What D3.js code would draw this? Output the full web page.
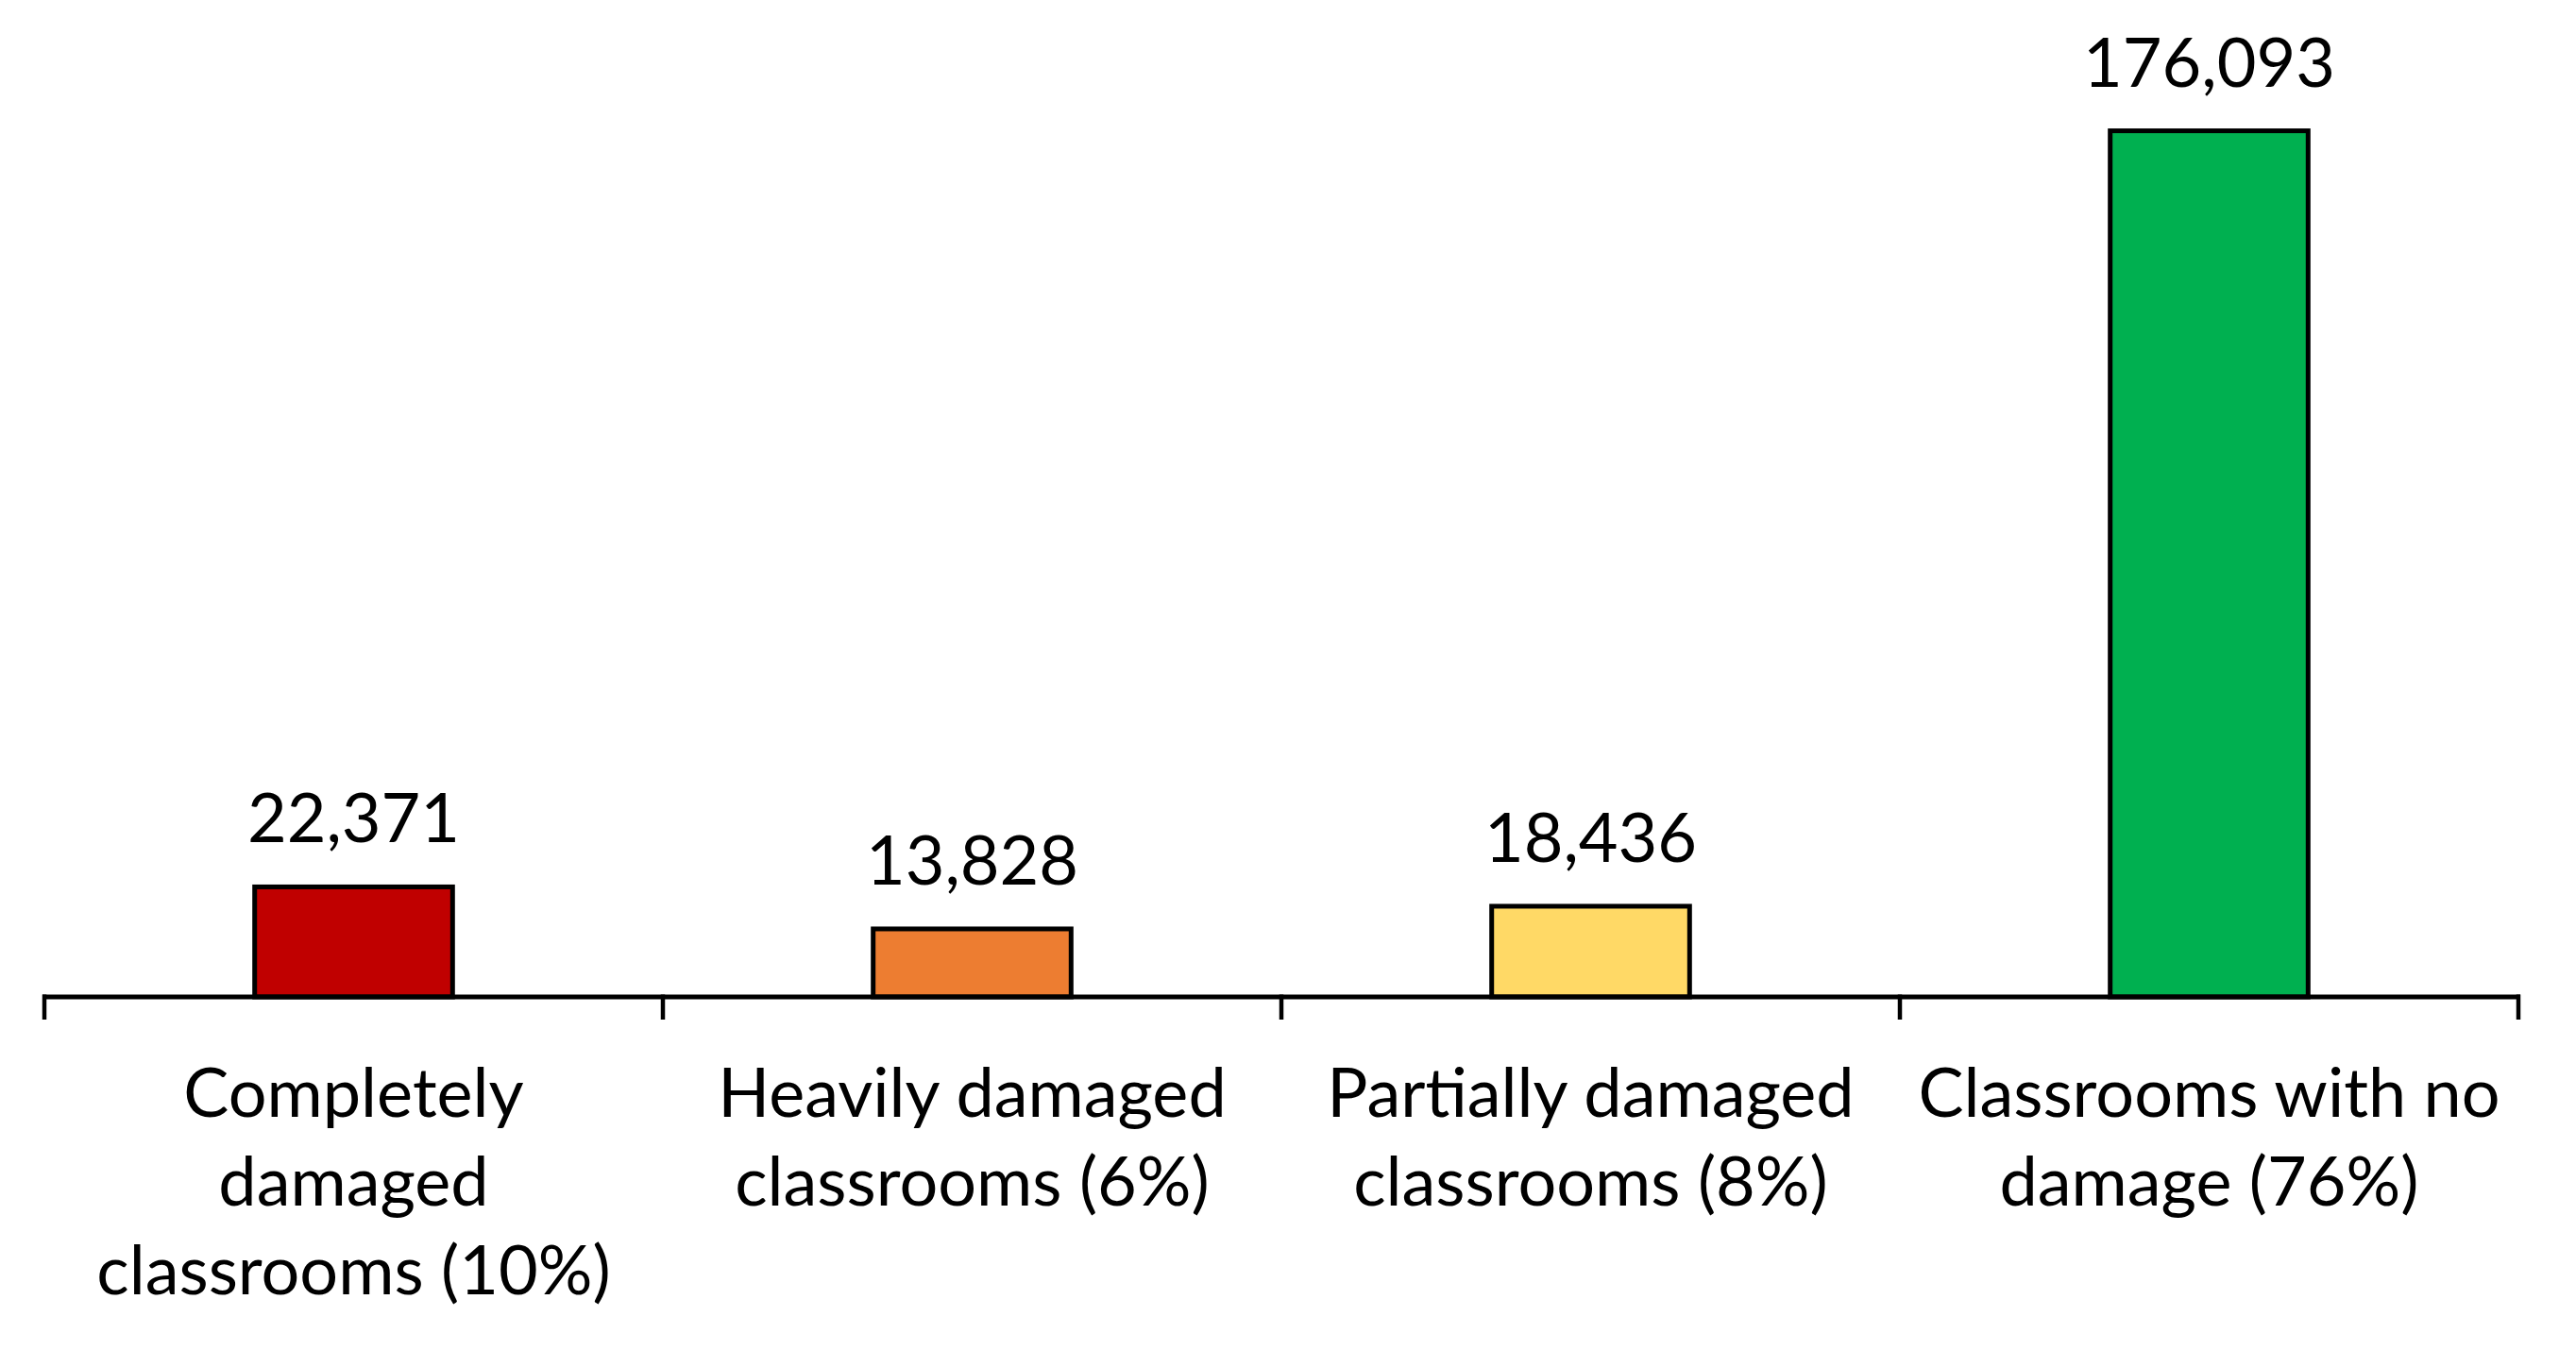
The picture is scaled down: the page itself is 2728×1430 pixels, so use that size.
<!DOCTYPE html>
<html>
<head>
<meta charset="utf-8">
<script src="https://cdn.jsdelivr.net/npm/d3@7"></script>
<style>
  html, body { margin: 0; padding: 0; background: #fff; }
  svg { display: block; }
  text { font-family: Lato, "Open Sans", sans-serif; fill: #000; }
</style>
</head>
<body>
<svg id="chart" width="2728" height="1430"></svg>
<script>
const categories = [
  "Completely damaged classrooms (10%)",
  "Heavily damaged classrooms (6%)",
  "Partially damaged classrooms (8%)",
  "Classrooms with no damage (76%)"
];
const values = [22371, 13828, 18436, 176093];
const colors = ["#C00000", "#ED7D31", "#FFD966", "#00B050"];

const W = 2728, H = 1430;
const margin = { left: 47, right: 61, top: 14, bottom: 374 };
const svg = d3.select("#chart");
svg.append("rect").attr("width", W).attr("height", H).attr("fill", "#fff");

const x = d3.scaleBand()
  .domain(categories)
  .range([margin.left, W - margin.right])
  .paddingInner(0.68).paddingOuter(0.34);

const y = d3.scaleLinear()
  .domain([0, 200000])
  .range([H - margin.bottom, margin.top]);

const fmt = d3.format(",");
const fontSize = 72;

// bars
svg.append("g").selectAll("rect")
  .data(values)
  .join("rect")
  .attr("x", (d, i) => x(categories[i]))
  .attr("y", d => y(d))
  .attr("width", x.bandwidth())
  .attr("height", d => y(0) - y(d))
  .attr("fill", (d, i) => colors[i])
  .attr("stroke", "#000")
  .attr("stroke-width", 5);

// value labels
svg.append("g").selectAll("text")
  .data(values)
  .join("text")
  .attr("x", (d, i) => x(categories[i]) + x.bandwidth() / 2)
  .attr("y", d => y(d) - 47)
  .attr("text-anchor", "middle")
  .attr("font-size", fontSize)
  .text(d => fmt(d));

// axis line and ticks (category boundaries)
const x0 = margin.left, x1 = W - margin.right;
const boundaries = d3.range(categories.length + 1).map(i => x0 + i * (x1 - x0) / categories.length);
const ax = svg.append("g");
ax.append("line")
  .attr("x1", x0 - 2).attr("x2", x1 + 2)
  .attr("y1", y(0)).attr("y2", y(0))
  .attr("stroke", "#000").attr("stroke-width", 5);
ax.selectAll("line.tick")
  .data(boundaries)
  .join("line")
  .attr("class", "tick")
  .attr("x1", d => d).attr("x2", d => d)
  .attr("y1", y(0) - 2.5).attr("y2", y(0) + 24)
  .attr("stroke", "#000").attr("stroke-width", 4.5);

// category labels with wrapping
const wrapWidth = 636;
const lineH = 94;
const labels = svg.append("g").selectAll("text")
  .data(categories)
  .join("text")
  .attr("x", d => x(d) + x.bandwidth() / 2)
  .attr("y", y(0) + 127)
  .attr("text-anchor", "middle")
  .attr("font-size", fontSize);

labels.each(function(d) {
  const t = d3.select(this);
  const words = d.split(" ");
  const lines = [];
  let cur = [];
  const probe = t.append("tspan");
  words.forEach(w => {
    const test = cur.concat([w]).join(" ");
    probe.text(test);
    if (probe.node().getComputedTextLength() > wrapWidth && cur.length) {
      lines.push(cur.join(" "));
      cur = [w];
    } else {
      cur.push(w);
    }
  });
  if (cur.length) lines.push(cur.join(" "));
  probe.remove();
  const cx = +t.attr("x");
  lines.forEach((ln, i) => {
    t.append("tspan").attr("x", cx).attr("dy", i === 0 ? 0 : lineH).text(ln);
  });
});
</script>
</body>
</html>
